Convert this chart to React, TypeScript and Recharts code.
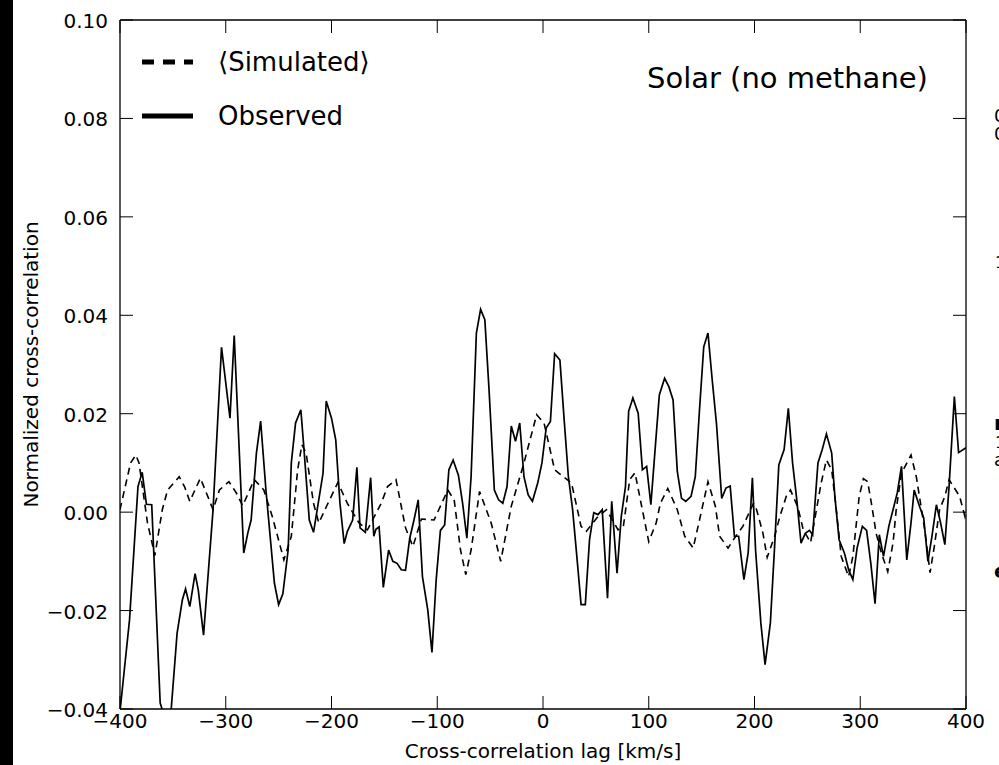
import React from 'react';
import { LineChart, Line, XAxis, YAxis, Legend } from 'recharts';

// Observed cross-correlation (lag in km/s)
const obsLag = [
  -400, -391, -383, -379, -375, -370, -362, -358, -352, -346, -341, -338, -334, -329, -326, -321,
  -312, -304, -296, -292, -283, -279, -276, -271, -267, -262, -254, -250, -246, -241, -238, -234,
  -229, -226, -221, -217, -213, -208, -205, -200, -196, -192, -188, -185, -180, -176, -173, -168,
  -163, -160, -158, -155, -151, -146, -142, -138, -134, -130, -126, -122, -118, -114, -109, -105,
  -101, -97, -93, -89, -85, -80, -76, -72, -68, -63, -59, -55, -51, -46, -42, -38,
  -34, -30, -26, -22, -18, -14, -10, -5, -1, 3, 7, 11, 16, 20, 24, 28,
  32, 36, 40, 44, 48, 52, 56, 61, 65, 70, 74, 78, 81, 85, 90, 94,
  98, 102, 106, 110, 115, 119, 123, 127, 131, 135, 140, 144, 148, 152, 156, 160,
  164, 169, 173, 177, 181, 185, 190, 194, 198, 201, 206, 210, 215, 219, 223, 228,
  232, 236, 240, 244, 248, 252, 255, 260, 264, 268, 273, 276, 280, 285, 289, 293,
  297, 302, 306, 310, 314, 318, 322, 327, 331, 335, 339, 344, 348, 351, 356, 360,
  364, 368, 372, 376, 380, 384, 389, 393, 400,
];
const obsValue = [
  -0.0405, -0.0219, 0.0052, 0.0081, 0.0016, 0.0015, -0.0388, -0.0415, -0.0412, -0.0246, -0.0178, -0.0156, -0.0192, -0.0125, -0.0158, -0.025,
  0.0005, 0.0335, 0.0191, 0.0359, -0.0083, -0.0041, -0.0016, 0.012, 0.0185, 0.0045, -0.0144, -0.0188, -0.0166, -0.0077, 0.01, 0.0181,
  0.0208, 0.0127, -0.0016, -0.0041, 0.0012, 0.0079, 0.0226, 0.0191, 0.0147, 0.0018, -0.0064, -0.0039, -0.0016, 0.0091, -0.0032, -0.0041,
  0.007, -0.0049, -0.0035, -0.003, -0.0153, -0.0077, -0.01, -0.0104, -0.0117, -0.0118, -0.0053, -0.0016, 0.0025, -0.0131, -0.0198, -0.0285,
  -0.0137, -0.0037, -0.0026, 0.0086, 0.0106, 0.0075, 0.0018, -0.0053, 0.0072, 0.0364, 0.0412, 0.0391, 0.0248, 0.0045, 0.0025, 0.0018,
  0.0052, 0.0175, 0.0144, 0.0181, 0.0072, 0.0035, 0.0022, 0.0059, 0.01, 0.0171, 0.0184, 0.0322, 0.0309, 0.0188, 0.0072, 0.0005,
  -0.009, -0.0188, -0.0188, -0.0056, -0.0001, -0.0005, 0.0005, -0.0175, 0.0022, -0.0124, -0.0009, 0.0052, 0.0205, 0.0232, 0.0201, 0.0086,
  0.0093, 0.0015, 0.0127, 0.0238, 0.0272, 0.0255, 0.0228, 0.0083, 0.0028, 0.0022, 0.0032, 0.0072, 0.0208, 0.0336, 0.0364, 0.0269,
  0.0181, 0.0028, 0.0049, 0.0053, -0.0049, -0.0049, -0.0137, -0.0083, 0.007, -0.0077, -0.0225, -0.031, -0.0225, -0.007, 0.0096, 0.0127,
  0.0211, 0.01, 0.0025, -0.0063, -0.0043, -0.0037, -0.0046, 0.01, 0.0127, 0.0159, 0.012, 0.0032, -0.0056, -0.0083, -0.0117, -0.0137,
  -0.0073, -0.0029, -0.0037, -0.0104, -0.0186, -0.0046, -0.009, -0.0029, 0.0005, 0.0039, 0.0093, -0.0097, -0.0022, 0.0045, 0.0012, -0.0012,
  -0.01, -0.0046, 0.0015, -0.0022, -0.0066, 0.0052, 0.0235, 0.0121, 0.0131,
];

// Mean simulated cross-correlation
const simLag = [
  -400, -390, -385, -382, -374, -367, -360, -355, -344, -339, -334, -324, -317, -312, -306, -297,
  -290, -284, -273, -264, -256, -245, -238, -232, -228, -224, -217, -212, -204, -194, -185, -174,
  -166, -153, -147, -139, -130, -123, -115, -103, -90, -84, -78, -73, -68, -60, -49, -40,
  -30, -18, -6, 1, 11, 27, 36, 41, 47, 52, 60, 71, 76, 82, 87, 93,
  100, 107, 111, 118, 127, 134, 142, 148, 156, 163, 167, 175, 181, 189, 199, 202,
  208, 212, 219, 224, 230, 234, 241, 246, 253, 258, 263, 268, 273, 277, 282, 289,
  293, 296, 299, 303, 307, 311, 315, 320, 326, 331, 334, 339, 348, 353, 357, 361,
  366, 370, 375, 380, 384, 394, 399, 400,
];
const simValue = [
  0.0005, 0.01, 0.0116, 0.01, -0.0022, -0.0088, 0.0005, 0.0045, 0.0072, 0.0052, 0.0022, 0.0069, 0.0032, 0.0005, 0.0045, 0.0062,
  0.0039, 0.0013, 0.0066, 0.0045, -0.0009, -0.0097, -0.0049, 0.0086, 0.0137, 0.012, 0.0018, -0.0022, 0.0015, 0.006, 0.0018, -0.0022,
  -0.0036, 0.0018, 0.0052, 0.0066, -0.0032, -0.007, -0.0014, -0.0016, 0.0045, 0.0025, -0.0077, -0.0127, -0.0077, 0.0042, -0.0022, -0.01,
  0.0012, 0.01, 0.0198, 0.0181, 0.0086, 0.0059, -0.0029, -0.0039, -0.0022, -0.0009, 0.0005, -0.0036, -0.0029, 0.0066, 0.008, 0.0015,
  -0.006, -0.0022, 0.0018, 0.0048, 0.0005, -0.0049, -0.0073, -0.0016, 0.0062, 0.0012, -0.0049, -0.0073, -0.0053, -0.0029, 0.0018, 0.0005,
  -0.0043, -0.0092, -0.0049, -0.0009, 0.0032, 0.0045, 0.001, -0.0035, -0.0062, -0.0002, 0.0059, 0.0106, 0.0086, 0.0012, -0.009, -0.0131,
  -0.009, -0.0029, 0.0032, 0.0068, 0.0062, 0.0012, -0.0043, -0.0083, -0.0121, -0.0063, 0.0005, 0.0079, 0.0116, 0.0072, 0.0018, -0.0036,
  -0.0123, -0.007, 0.0005, 0.0032, 0.0066, 0.0032, -0.0009, -0.0001,
];

const lagTicks = [-400, -300, -200, -100, 0, 100, 200, 300, 400];
const corrTicks = [-0.04, -0.02, 0, 0.02, 0.04, 0.06, 0.08, 0.1];

const observed = obsLag.map((lag, i) => ({ lag, value: obsValue[i] }));
const simulated = simLag.map((lag, i) => ({ lag, value: simValue[i] }));

const FONT = '"DejaVu Sans", "Bitstream Vera Sans", sans-serif';
const TICK = 13;

const fmt = (s: string) => s.replace('-', '\u2212');

// matplotlib-style inward ticks
const BottomTick = ({ x, y, payload }: any) => (
  <g>
    <line x1={x} x2={x} y1={y} y2={y - TICK} stroke="#000" />
    <text x={x} y={y + 19} textAnchor="middle" fontSize={20} fontFamily={FONT} fill="#000">
      {fmt(String(payload.value))}
    </text>
  </g>
);

const LeftTick = ({ x, y, payload }: any) => (
  <g>
    <line x1={x} x2={x + TICK} y1={y} y2={y} stroke="#000" />
    <text x={x - 12} y={y + 8} textAnchor="end" fontSize={20} fontFamily={FONT} fill="#000">
      {fmt(Number(payload.value).toFixed(2))}
    </text>
  </g>
);

const TopTick = ({ x, y }: any) => <line x1={x} x2={x} y1={y} y2={y + TICK} stroke="#000" />;
const RightTick = ({ x, y }: any) => <line x1={x} x2={x - TICK} y1={y} y2={y} stroke="#000" />;

const LegendBox = ({ payload }: any) => {
  // dashed (simulated) entry on top, as in the figure
  const items = [...(payload || [])].sort(
    (a: any, b: any) => (b.payload?.strokeDasharray ? 1 : 0) - (a.payload?.strokeDasharray ? 1 : 0),
  );
  return (
    <svg width={240} height={92} style={{ display: 'block' }}>
      {items.map((entry: any, i: number) => {
        const cy = 17 + i * 54;
        const dashed = entry.payload && entry.payload.strokeDasharray;
        return (
          <g key={entry.value}>
            <line x1={2} x2={53} y1={cy} y2={cy} stroke="#000" strokeWidth={5}
              strokeDasharray={dashed ? '12 9' : undefined} />
            <text x={78} y={cy + 9} fontSize={26} fontFamily={FONT} fill="#000">{entry.value}</text>
          </g>
        );
      })}
    </svg>
  );
};

const App: React.FC = () => {
  return (
    <div style={{ position: 'absolute', left: 0, top: 0, width: 999, height: 765, background: '#fff', overflow: 'hidden' }}>
      <LineChart width={999} height={765} margin={{ top: 19, right: 32, bottom: 0, left: 0 }}>
        <XAxis dataKey="lag" type="number" domain={[-400, 400]} ticks={lagTicks} interval={0}
          height={56} tickSize={0} tickMargin={0} tickLine={false} tick={BottomTick}
          axisLine={{ stroke: '#000', strokeWidth: 1.3 }} allowDataOverflow />
        <XAxis xAxisId="top" orientation="top" dataKey="lag" type="number" domain={[-400, 400]} ticks={lagTicks}
          interval={0} height={1} tickSize={0} tickMargin={0} tickLine={false} tick={TopTick}
          axisLine={{ stroke: '#000', strokeWidth: 1.3 }} allowDataOverflow />
        <YAxis type="number" domain={[-0.04, 0.1]} ticks={corrTicks} interval={0} width={120}
          tickSize={0} tickMargin={0} tickLine={false} tick={LeftTick}
          axisLine={{ stroke: '#000', strokeWidth: 1.3 }} allowDataOverflow />
        <YAxis yAxisId="right" orientation="right" type="number" domain={[-0.04, 0.1]} ticks={corrTicks}
          interval={0} width={1} tickSize={0} tickMargin={0} tickLine={false} tick={RightTick}
          axisLine={{ stroke: '#000', strokeWidth: 1.3 }} allowDataOverflow />
        <Legend content={LegendBox} layout="vertical" align="center" verticalAlign="middle"
          wrapperStyle={{ left: 140, top: 45, width: 240, height: 92 }} />
        <Line data={simulated} dataKey="value" name={'\u27E8Simulated\u27E9'} type="linear" stroke="#000"
          strokeWidth={1.6} strokeDasharray="7 5" dot={false} activeDot={false} isAnimationActive={false} />
        <Line data={observed} dataKey="value" name="Observed" type="linear" stroke="#000"
          strokeWidth={1.7} dot={false} activeDot={false} isAnimationActive={false} />
      </LineChart>

      <svg width={999} height={765} style={{ position: 'absolute', left: 0, top: 0, pointerEvents: 'none' }}>
        <text x={647} y={88} fontSize={29} fontFamily={FONT} fill="#000">Solar (no methane)</text>
        <text x={543} y={758} textAnchor="middle" fontSize={20} fontFamily={FONT} fill="#000">
          Cross-correlation lag [km/s]
        </text>
        <text transform="translate(38,364.5) rotate(-90)" textAnchor="middle" fontSize={20} fontFamily={FONT} fill="#000">
          Normalized cross-correlation
        </text>
        {/* clipped pieces of the neighbouring panel */}
        <text x={994} y={122} fontSize={18} fontFamily={FONT} fill="#000">0</text>
        <text x={994} y={140} fontSize={18} fontFamily={FONT} fill="#000">0</text>
        <text x={995} y={268} fontSize={16} fontFamily={FONT} fill="#000">1</text>
        <text x={994} y={430} fontSize={20} fontFamily={FONT} fontWeight="bold" fill="#000">n</text>
        <text x={995} y={448} fontSize={16} fontFamily={FONT} fill="#000">1</text>
        <text x={994} y={466} fontSize={18} fontFamily={FONT} fill="#000">a</text>
        <text x={994} y={578} fontSize={20} fontFamily={FONT} fontWeight="bold" fill="#000">e</text>
      </svg>
      <div style={{ position: 'absolute', left: 0, top: 0, width: 13, height: 765, background: '#000' }} />
    </div>
  );
};

export default App;
